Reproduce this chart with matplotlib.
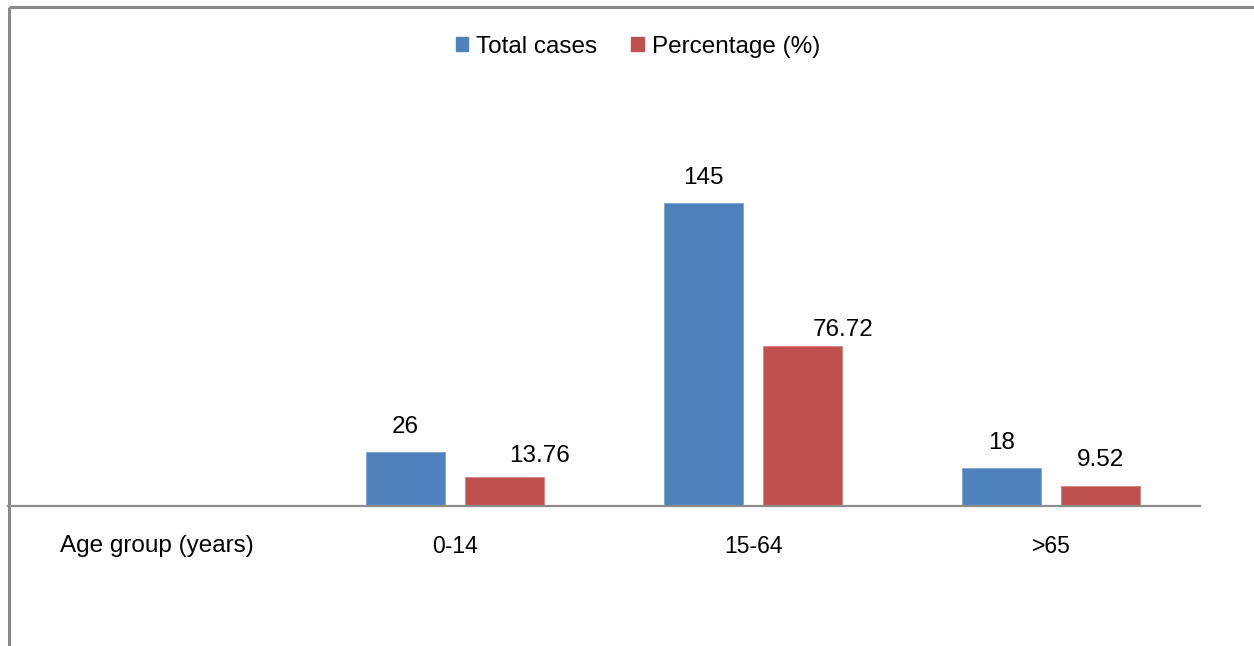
import matplotlib
matplotlib.use('Agg')
import matplotlib.pyplot as plt
import matplotlib.patches as patches
from matplotlib.lines import Line2D
import numpy as np

# Case counts and share by age group
categories = ['Age group (years)', '0-14', '15-64', '>65']
total_cases = [np.nan, 26, 145, 18]
percentage = [np.nan, 13.76, 76.72, 9.52]

series_names = ['Total cases', 'Percentage (%)']
series_colors = ['#4F81BD', '#C0504D']

plt.rcParams['font.family'] = ['Liberation Sans', 'DejaVu Sans']

fig = plt.figure(figsize=(12.54, 6.46), dpi=100)
W, H = 1254, 646

# Plot area: baseline at y=506 px, runs from the chart border to x=1200 px
ax = fig.add_axes([8 / W, (H - 506) / H, (1200 - 8) / W, (506 - 7) / H])

x = np.arange(len(categories))
bar_w = 0.265
shift = 0.166

bars_blue = ax.bar(x - shift, total_cases, width=bar_w, color=series_colors[0],
                   edgecolor='#7FA3CF', linewidth=0.6)
bars_red = ax.bar(x + shift, percentage, width=bar_w, color=series_colors[1],
                  edgecolor='#D98280', linewidth=0.6)

ax.set_xlim(-0.5, len(categories) - 0.5)
ax.set_ylim(0, 239)

# Value labels (a couple of them were nudged sideways in the original layout)
label_font = 17.5
blue_offsets = [(0, 0), (0, 17.5), (0, 18), (0, 18)]
red_offsets = [(0, 0), (25, 15), (29, 11.5), (0, 18.5)]

for i in range(len(categories)):
    if not np.isnan(total_cases[i]):
        ax.annotate(f'{total_cases[i]:g}', (x[i] - shift, total_cases[i]),
                    xytext=blue_offsets[i], textcoords='offset points',
                    ha='center', va='center', fontsize=label_font)
    if not np.isnan(percentage[i]):
        ax.annotate(f'{percentage[i]:.2f}', (x[i] + shift, percentage[i]),
                    xytext=red_offsets[i], textcoords='offset points',
                    ha='center', va='center', fontsize=label_font)

# Axis styling
for side in ['top', 'right', 'left']:
    ax.spines[side].set_visible(False)
ax.spines['bottom'].set_color('#8C8C8C')
ax.spines['bottom'].set_linewidth(1.6)
ax.set_yticks([])
ax.set_xticks(x)
ax.set_xticklabels(categories)
ax.tick_params(axis='x', length=0, pad=21)
for lbl in ax.get_xticklabels():
    lbl.set_fontsize(16.5)
ax.get_xticklabels()[0].set_fontsize(17.5)
ax.set_facecolor('none')

# Legend across the top
handles = [patches.Patch(color=c, label=n) for c, n in zip(series_colors, series_names)]
fig.legend(handles=handles, loc='center', bbox_to_anchor=(638 / W, 1 - 47 / H),
           ncol=2, frameon=False, fontsize=17.5, handlelength=0.5, handleheight=0.5,
           handletextpad=0.35, columnspacing=1.4)

# Chart border (top and left edges visible)
border_kw = dict(color='#8A8A8A', linewidth=2.2, solid_capstyle='butt')
fig.add_artist(Line2D([9 / W, 1.0], [1 - 7 / H, 1 - 7 / H], transform=fig.transFigure, **border_kw))
fig.add_artist(Line2D([9 / W, 9 / W], [0.0, 1 - 7 / H], transform=fig.transFigure, **border_kw))

fig.savefig('out.png', dpi=100, facecolor='white')
